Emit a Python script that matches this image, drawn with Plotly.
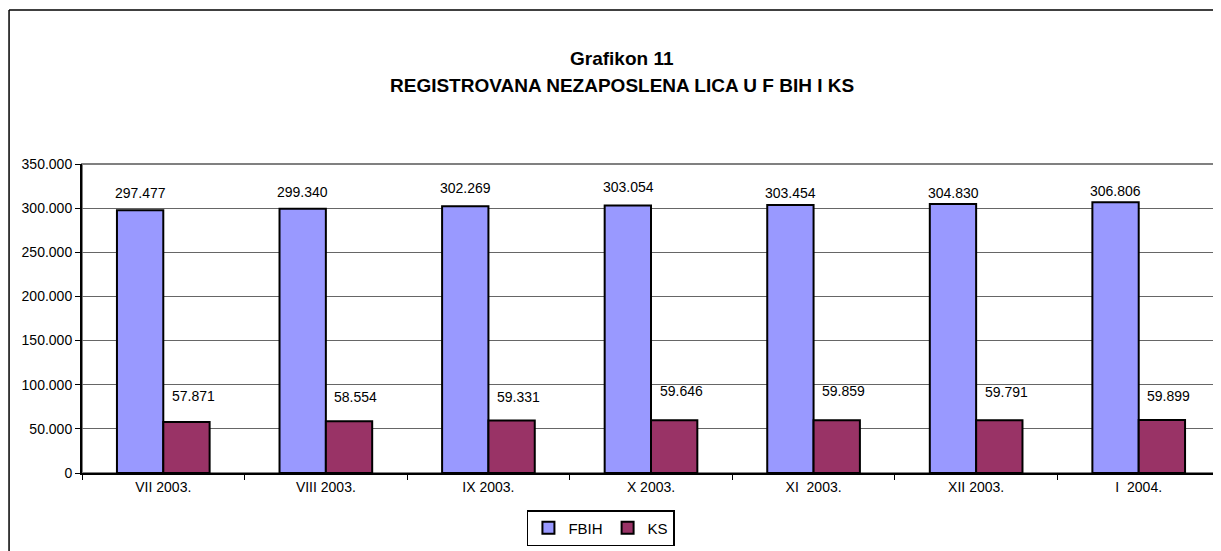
import plotly.graph_objects as go

# podaci
months = ["VII 2003.", "VIII 2003.", "IX 2003.", "X 2003.", "XI  2003.", "XII 2003.", "I  2004."]
fbih = [297477, 299340, 302269, 303054, 303454, 304830, 306806]
ks = [57871, 58554, 59331, 59646, 59859, 59791, 59899]

# pomak natpisa iznad stubova (px), kao u originalu
fbih_label_shift = [17, 17, 18, 18, 12, 11, 11]
ks_label_shift = [26, 24, 24, 29, 29, 28, 24]

font_family = "Arial, Liberation Sans, sans-serif"


def fmt(v):
    return f"{v:,}".replace(",", ".")


fig = go.Figure()
fig.add_trace(go.Bar(x=months, y=fbih, name="FBIH",
                     marker=dict(color="#9999FF", line=dict(color="black", width=2))))
fig.add_trace(go.Bar(x=months, y=ks, name="KS",
                     marker=dict(color="#993366", line=dict(color="black", width=2))))

# natpisi vrijednosti
for i, m in enumerate(months):
    fig.add_annotation(x=m, y=fbih[i], text=fmt(fbih[i]), showarrow=False,
                       xshift=-23, yshift=fbih_label_shift[i], font=dict(size=14))
    fig.add_annotation(x=m, y=ks[i], text=fmt(ks[i]), showarrow=False,
                       xshift=30, yshift=ks_label_shift[i], font=dict(size=14))

# naslov
fig.add_annotation(xref="paper", yref="paper", x=0.4745, y=1.382, showarrow=False,
                   text="<b>Grafikon 11</b>", font=dict(size=19))
fig.add_annotation(xref="paper", yref="paper", x=0.4745, y=1.294, showarrow=False,
                   text="<b>REGISTROVANA NEZAPOSLENA LICA U F BIH I KS</b>", font=dict(size=19))

# okvir grafikona i okvir plot podrucja
fig.add_shape(type="line", xref="paper", yref="paper", x0=-0.0641, x1=1.01, y0=1.498, y1=1.498,
              line=dict(color="black", width=1.5))
fig.add_shape(type="line", xref="paper", yref="paper", x0=-0.0641, x1=-0.0641, y0=1.498, y1=-0.5,
              line=dict(color="black", width=1.5))
fig.add_shape(type="rect", xref="paper", yref="paper", x0=0, x1=1, y0=0, y1=1,
              line=dict(color="#808080", width=2), layer="below")

fig.update_layout(
    width=1213, height=543,
    margin=dict(l=74, r=1, t=156, b=78),
    paper_bgcolor="white", plot_bgcolor="white",
    font=dict(family=font_family, size=14, color="black"),
    separators=",.",
    barmode="group", bargap=0.43, bargroupgap=0,
    showlegend=True,
    legend=dict(orientation="h", x=0.456, y=-0.178, xanchor="center", yanchor="middle",
                bordercolor="black", borderwidth=1.5, font=dict(size=15),
                itemwidth=30, tracegroupgap=0),
    xaxis=dict(showline=True, linecolor="black", linewidth=2, ticks="outside",
               tickson="boundaries", ticklen=5, tickcolor="black", tickfont=dict(size=14)),
    yaxis=dict(range=[0, 350000], dtick=50000, tickformat=",d", showline=True,
               linecolor="black", linewidth=2, ticks="outside", ticklen=5,
               tickcolor="black", showgrid=True, gridcolor="#666666", gridwidth=1,
               zeroline=False, tickfont=dict(size=14)),
)

fig.write_html("out.html")
